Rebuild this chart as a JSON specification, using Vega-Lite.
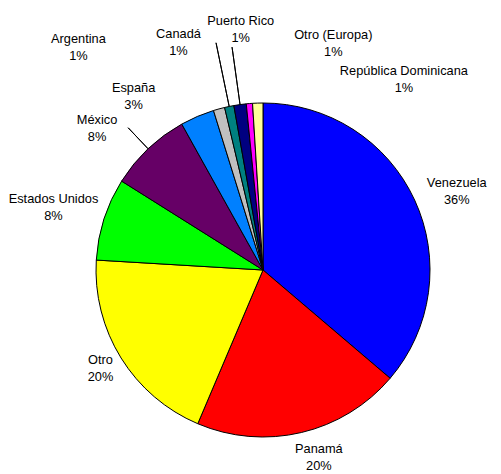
{
  "$schema": "https://vega.github.io/schema/vega-lite/v6.json",
  "width": 476,
  "height": 408,
  "autosize": {"type": "none"},
  "padding": {"left": 25, "top": 66, "right": 0, "bottom": 0},
  "background": "white",
  "data": {
    "values": [
      {"pais": "Venezuela", "porcentaje": 36.3},
      {"pais": "Panamá", "porcentaje": 20.2},
      {"pais": "Otro", "porcentaje": 19.6},
      {"pais": "Estados Unidos", "porcentaje": 8.0},
      {"pais": "México", "porcentaje": 8.0},
      {"pais": "España", "porcentaje": 3.3},
      {"pais": "Argentina", "porcentaje": 1.1},
      {"pais": "Canadá", "porcentaje": 0.9},
      {"pais": "Puerto Rico", "porcentaje": 1.2},
      {"pais": "Otro (Europa)", "porcentaje": 0.6},
      {"pais": "República Dominicana", "porcentaje": 1.0}
    ]
  },
  "transform": [
    {"window": [{"op": "row_number", "as": "orden"}]},
    {"window": [{"op": "sum", "field": "porcentaje", "as": "acum"}], "sort": [{"field": "orden"}]},
    {"joinaggregate": [{"op": "sum", "field": "porcentaje", "as": "total"}]},
    {"calculate": "(datum.acum - datum.porcentaje / 2) / datum.total * 2 * PI", "as": "mid"},
    {"calculate": "datum.pais + '\\n' + format(datum.porcentaje / datum.total, '.0%')", "as": "etiqueta"}
  ],
  "layer": [
    {
      "mark": {"type": "arc", "outerRadius": 167, "stroke": "#000000", "strokeWidth": 1},
      "encoding": {
        "theta": {"field": "porcentaje", "type": "quantitative", "stack": true},
        "order": {"field": "orden", "type": "quantitative"},
        "color": {
          "field": "pais",
          "type": "nominal",
          "legend": null,
          "scale": {
            "domain": ["Venezuela", "Panamá", "Otro", "Estados Unidos", "México", "España", "Argentina", "Canadá", "Puerto Rico", "Otro (Europa)", "República Dominicana"],
            "range": ["#0000FF", "#FF0000", "#FFFF00", "#00FF00", "#660066", "#0080FF", "#C0C0C0", "#008080", "#000080", "#FF00FF", "#FFFF99"]
          }
        }
      }
    },
    {
      "encoding": {
        "theta": {"field": "mid", "type": "quantitative", "scale": null},
        "theta2": {"field": "mid"}
      },
      "layer": [
        {
          "transform": [{"filter": "datum.pais == 'México'"}],
          "mark": {"type": "arc", "innerRadius": 167, "outerRadius": 196, "stroke": "#000000", "strokeWidth": 1, "fill": null}
        },
        {
          "transform": [{"filter": "datum.pais == 'Canadá'"}],
          "mark": {"type": "arc", "innerRadius": 167, "outerRadius": 232, "stroke": "#000000", "strokeWidth": 1, "fill": null}
        },
        {
          "transform": [{"filter": "datum.pais == 'Puerto Rico'"}],
          "mark": {"type": "arc", "innerRadius": 167, "outerRadius": 225, "stroke": "#000000", "strokeWidth": 1, "fill": null}
        }
      ]
    },
    {
      "encoding": {
        "theta": {"field": "mid", "type": "quantitative", "scale": null},
        "text": {"field": "etiqueta", "type": "nominal"}
      },
      "layer": [
        {"transform": [{"filter": "datum.pais == 'Venezuela'"}], "mark": {"type": "text", "style": "etiqueta", "radius": 209, "dx": 4, "dy": 1}},
        {"transform": [{"filter": "datum.pais == 'Panamá'"}], "mark": {"type": "text", "style": "etiqueta", "radius": 195, "dx": 11, "dy": -11}},
        {"transform": [{"filter": "datum.pais == 'Otro'"}], "mark": {"type": "text", "style": "etiqueta", "radius": 190, "dx": -1, "dy": -10}},
        {"transform": [{"filter": "datum.pais == 'Estados Unidos'"}], "mark": {"type": "text", "style": "etiqueta", "radius": 219, "dx": -1, "dy": -4}},
        {"transform": [{"filter": "datum.pais == 'México'"}], "mark": {"type": "text", "style": "etiqueta", "radius": 218, "dx": -16, "dy": 8}},
        {"transform": [{"filter": "datum.pais == 'España'"}], "mark": {"type": "text", "style": "etiqueta", "radius": 217, "dx": -44, "dy": 17}},
        {"transform": [{"filter": "datum.pais == 'Argentina'"}], "mark": {"type": "text", "style": "etiqueta", "radius": 230, "dx": -124, "dy": -9}},
        {"transform": [{"filter": "datum.pais == 'Canadá'"}], "mark": {"type": "text", "style": "etiqueta", "radius": 230, "dx": -38, "dy": -11}},
        {"transform": [{"filter": "datum.pais == 'Puerto Rico'"}], "mark": {"type": "text", "style": "etiqueta", "radius": 242, "dx": 11, "dy": -9}},
        {"transform": [{"filter": "datum.pais == 'Otro (Europa)'"}], "mark": {"type": "text", "style": "etiqueta", "radius": 230, "dx": 89, "dy": -6}},
        {"transform": [{"filter": "datum.pais == 'República Dominicana'"}], "mark": {"type": "text", "style": "etiqueta", "radius": 195, "dx": 147, "dy": -4}}
      ]
    }
  ],
  "config": {
    "view": {"stroke": null},
    "style": {
      "etiqueta": {"font": "Liberation Sans", "fontSize": 12.8, "lineHeight": 17, "lineBreak": "\n", "align": "center", "baseline": "middle", "color": "#000000"}
    }
  }
}
